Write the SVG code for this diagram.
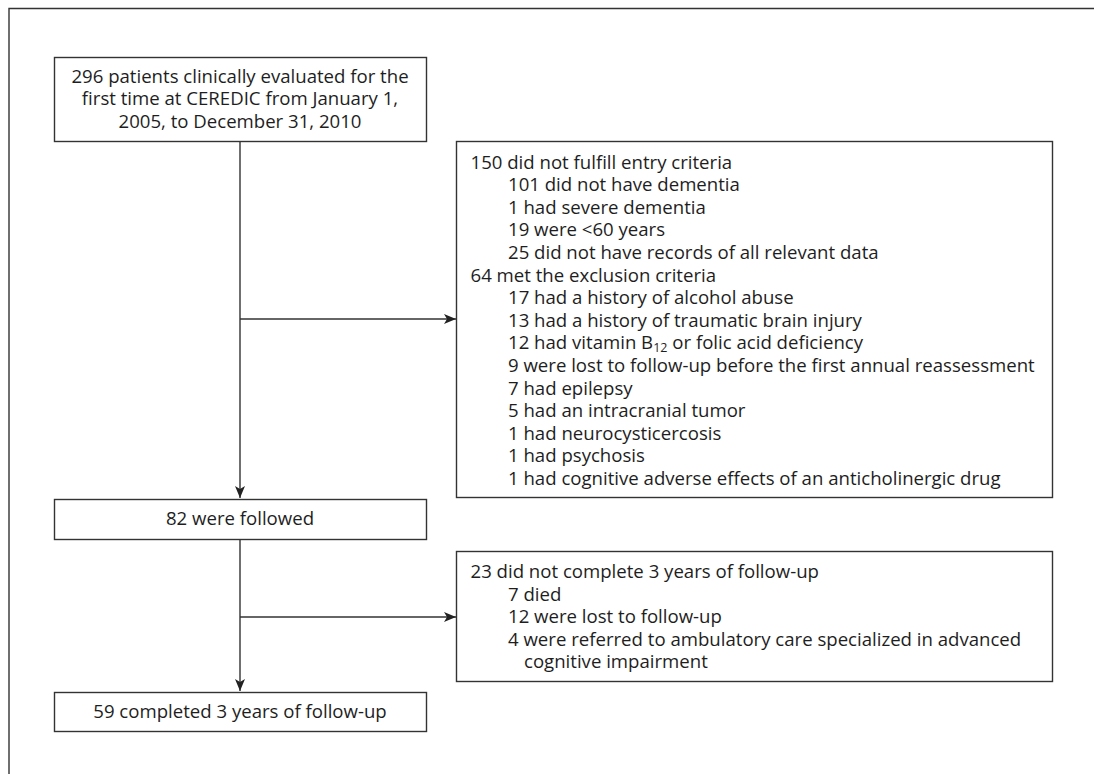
<svg xmlns="http://www.w3.org/2000/svg" width="1094" height="774" viewBox="0 0 1094 774">
<style>
.box{fill:#fff;stroke:#333;stroke-width:1.4}
.ln{fill:none;stroke:#333;stroke-width:1.4}
text{font-family:"Open Sans","Noto Sans","Liberation Sans",sans-serif;font-size:18.6px;fill:#1e1e1e}
.c{text-anchor:middle}
.sub{font-size:12.5px}
</style>
<defs>
<marker id="ah" markerWidth="12" markerHeight="10" refX="12" refY="5" orient="auto" markerUnits="userSpaceOnUse">
<path d="M0,0 L12,5 L0,10 L3,5 Z" fill="#222"/>
</marker>
</defs>
<rect width="1094" height="774" fill="#fff"/>
<path class="ln" d="M9,774 V8.5 H1094" stroke="#555"/>
<g id="connectors">
<path class="ln" d="M240,141 V498" marker-end="url(#ah)"/>
<path class="ln" d="M240,319 H456" marker-end="url(#ah)"/>
<path class="ln" d="M240,539 V691" marker-end="url(#ah)"/>
<path class="ln" d="M240,617 H456" marker-end="url(#ah)"/>
</g>
<g id="n1">
<rect class="box" x="54.5" y="57.5" width="372" height="84"/>
<text class="c" x="240" y="82.5">296 patients clinically evaluated for the</text>
<text class="c" x="240" y="105.3">first time at CEREDIC from January 1,</text>
<text class="c" x="240" y="128.1">2005, to December 31, 2010</text>
</g>
<g id="n2">
<rect class="box" x="456.5" y="141.5" width="596" height="356"/>
<text x="470.5" y="168.5">150 did not fulfill entry criteria</text>
<text x="508" y="191.1">101 did not have dementia</text>
<text x="508" y="213.7">1 had severe dementia</text>
<text x="508" y="236.3">19 were &lt;60 years</text>
<text x="508" y="258.9">25 did not have records of all relevant data</text>
<text x="470.5" y="281.5">64 met the exclusion criteria</text>
<text x="508" y="304.1">17 had a history of alcohol abuse</text>
<text x="508" y="326.7">13 had a history of traumatic brain injury</text>
<text x="508" y="349.3">12 had vitamin B<tspan class="sub" dy="3">12</tspan><tspan dy="-3"> or folic acid deficiency</tspan></text>
<text x="508" y="371.9">9 were lost to follow-up before the first annual reassessment</text>
<text x="508" y="394.5">7 had epilepsy</text>
<text x="508" y="417.1">5 had an intracranial tumor</text>
<text x="508" y="439.7">1 had neurocysticercosis</text>
<text x="508" y="462.3">1 had psychosis</text>
<text x="508" y="484.9">1 had cognitive adverse effects of an anticholinergic drug</text>
</g>
<g id="n3">
<rect class="box" x="54.5" y="499.5" width="372" height="40"/>
<text class="c" x="240" y="524.7">82 were followed</text>
</g>
<g id="n4">
<rect class="box" x="456.5" y="551.5" width="596" height="130"/>
<text x="470.5" y="578">23 did not complete 3 years of follow-up</text>
<text x="508" y="600.6">7 died</text>
<text x="508" y="623.2">12 were lost to follow-up</text>
<text x="508" y="645.8">4 were referred to ambulatory care specialized in advanced</text>
<text x="524" y="668.4">cognitive impairment</text>
</g>
<g id="n5">
<rect class="box" x="54.5" y="692.5" width="372" height="39"/>
<text class="c" x="240" y="717.5">59 completed 3 years of follow-up</text>
</g>
</svg>
